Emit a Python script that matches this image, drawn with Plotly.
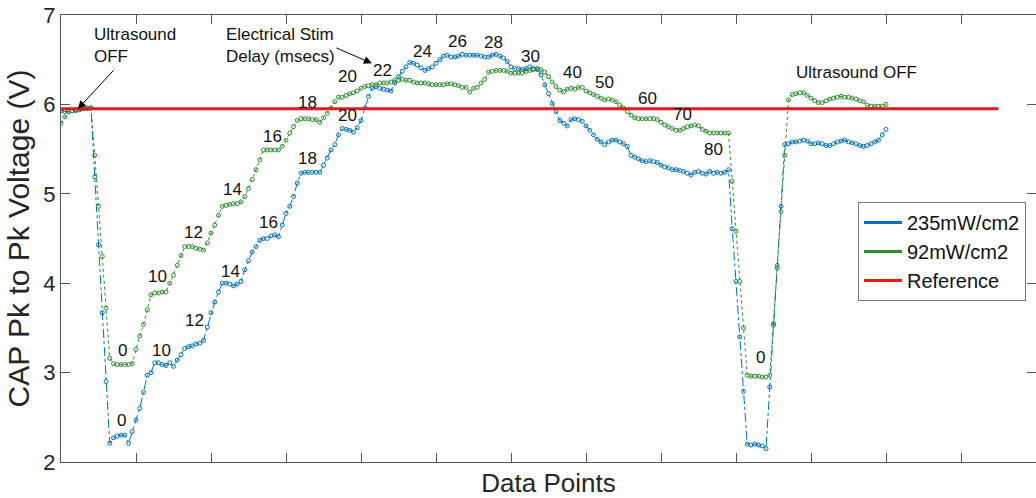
import numpy as np
import plotly.graph_objects as go

# CAP peak-to-peak voltage per data point for the two ultrasound intensities
cap_235 = [
    5.93, 5.92, 5.92, 5.93, 5.94, 5.95, 5.96, 5.96, 5.96,
    5.19, 4.43, 3.67, 2.90,
    2.21, 2.27, 2.29, 2.30, 2.30, 2.21, 2.34,
    2.47, 2.60, 2.78, 2.97, 3.00,
    3.11, 3.11, 3.09, 3.08, 3.11, 3.07,
    3.14, 3.20, 3.27, 3.29, 3.30, 3.32, 3.33, 3.36,
    3.51, 3.67, 3.79, 3.90, 4.00,
    4.00, 3.99, 3.97, 3.99, 4.02,
    4.15, 4.25, 4.35, 4.41, 4.48,
    4.50, 4.50, 4.53, 4.54, 4.52,
    4.65, 4.78, 4.86, 4.97, 5.12, 5.23,
    5.24, 5.24, 5.24, 5.24, 5.24,
    5.32, 5.40, 5.49, 5.55, 5.66,
    5.73, 5.72, 5.71, 5.69,
    5.74, 5.82, 5.96, 6.09, 6.18, 6.20,
    6.18, 6.17, 6.16, 6.15,
    6.24, 6.31, 6.37, 6.42, 6.47,
    6.46, 6.44, 6.41, 6.38, 6.40, 6.42, 6.46, 6.50, 6.54,
    6.55, 6.53, 6.53, 6.54, 6.56, 6.55, 6.55, 6.55, 6.55, 6.54, 6.53, 6.53,
    6.55, 6.56, 6.54, 6.52, 6.48,
    6.42, 6.40, 6.40, 6.39, 6.40, 6.42, 6.40, 6.39,
    6.33, 6.22, 6.12, 6.01, 5.92, 5.82, 5.79, 5.76,
    5.83, 5.84, 5.83, 5.81, 5.76, 5.71, 5.66, 5.61, 5.58, 5.55, 5.58, 5.60,
    5.60, 5.58, 5.56, 5.53, 5.43,
    5.41, 5.39, 5.37, 5.36, 5.37, 5.36, 5.35, 5.32, 5.30, 5.29, 5.27, 5.27,
    5.26, 5.25, 5.23, 5.21, 5.24, 5.25, 5.23, 5.22, 5.25, 5.23, 5.24, 5.23,
    5.24, 5.27,
    4.61, 4.02, 3.40, 2.79, 2.20,
    2.19, 2.20, 2.19, 2.18, 2.15,
    2.84, 3.53, 4.17, 4.86, 5.55,
    5.56, 5.58, 5.58, 5.59, 5.60, 5.59, 5.56, 5.56, 5.57, 5.56, 5.54, 5.54,
    5.56, 5.58, 5.59, 5.60, 5.58, 5.57, 5.56, 5.54, 5.53, 5.54, 5.56, 5.58,
    5.60, 5.66, 5.72,
]

cap_92 = [
    5.79, 5.86, 5.92, 5.93, 5.93, 5.94, 5.95, 5.95, 5.96,
    5.43, 4.86, 4.30, 3.72,
    3.16, 3.10, 3.09, 3.09, 3.09, 3.09, 3.10,
    3.26, 3.41, 3.54, 3.70, 3.87,
    3.89, 3.89, 3.90, 3.90,
    4.00, 4.09, 4.20, 4.31,
    4.41, 4.41, 4.41, 4.39, 4.38, 4.37,
    4.45, 4.56, 4.65, 4.76, 4.86,
    4.87, 4.88, 4.89, 4.89, 4.91,
    4.97, 5.06, 5.16, 5.27, 5.38,
    5.49, 5.49, 5.49, 5.49, 5.49,
    5.53, 5.60, 5.68, 5.75, 5.82,
    5.84, 5.84, 5.84, 5.83, 5.83, 5.80,
    5.85, 5.90, 5.96, 6.03, 6.08,
    6.08, 6.10, 6.12, 6.13, 6.15, 6.18, 6.20, 6.21, 6.22, 6.22, 6.24, 6.24,
    6.24, 6.25, 6.27, 6.27, 6.28, 6.27, 6.27, 6.25, 6.24, 6.24, 6.24, 6.23,
    6.22, 6.22, 6.22, 6.22, 6.23,
    6.23, 6.22, 6.21, 6.19, 6.19, 6.14, 6.18, 6.19, 6.24, 6.28, 6.36, 6.37,
    6.38, 6.38, 6.38, 6.37, 6.35, 6.35, 6.35, 6.35, 6.37, 6.38, 6.39, 6.40,
    6.39, 6.36, 6.31, 6.25, 6.20, 6.16, 6.14, 6.17, 6.18, 6.17, 6.19, 6.19,
    6.15, 6.13, 6.11, 6.09, 6.07, 6.05, 6.06, 6.05, 6.03, 5.99, 5.96, 5.92,
    5.88, 5.85, 5.84, 5.84, 5.84, 5.84, 5.84, 5.83, 5.80, 5.77, 5.75, 5.73,
    5.71, 5.71, 5.73, 5.75, 5.76, 5.77, 5.76, 5.72, 5.70, 5.68, 5.68, 5.68,
    5.68, 5.68, 5.68,
    5.14, 4.58, 4.02, 3.50, 2.97,
    2.96, 2.96, 2.96, 2.95, 2.95,
    2.97, 3.55, 4.20, 4.80, 5.43,
    6.05, 6.11, 6.12, 6.13, 6.13, 6.10, 6.07, 6.04, 6.02, 6.02, 6.04, 6.06,
    6.07, 6.08, 6.09, 6.08, 6.08, 6.07, 6.06, 6.04, 6.03, 5.99, 5.98, 5.98,
    5.98, 5.98, 6.00,
]

reference_level = 5.95
reference_span = [0, 250]

x_ticks = list(range(0, 261, 20))
y_ticks = [2, 3, 4, 5, 6, 7]

# delay labels (msecs): text, data point, voltage
labels_92 = [("0", 16.3, 3.25), ("10", 25.6, 4.07), ("12", 35.2, 4.57),
             ("14", 45.6, 5.05), ("16", 56.3, 5.64), ("18", 65.6, 6.02),
             ("20", 76.3, 6.31), ("22", 85.6, 6.38)]
labels_235 = [("0", 16.0, 2.46), ("10", 26.9, 3.25), ("12", 35.7, 3.58),
              ("14", 45.1, 4.13), ("16", 55.2, 4.68), ("18", 65.6, 5.39),
              ("20", 76.3, 5.88), ("24", 96.5, 6.59), ("26", 105.6, 6.70),
              ("28", 115.2, 6.69), ("30", 125.1, 6.54), ("40", 136.5, 6.36),
              ("50", 144.8, 6.25), ("60", 156.5, 6.07), ("70", 165.6, 5.89),
              ("80", 173.9, 5.49), ("0", 186.4, 3.17)]

assert len(cap_235) == len(cap_92)
points = np.arange(len(cap_235))

BLUE = "#0072BD"
GREEN = "#2E8B2E"
RED = "#E41A1A"
FONT = "Liberation Sans, Arial, sans-serif"
AXIS = "#555555"

fig = go.Figure()

# legend entries drawn as plain thick lines
fig.add_trace(go.Scatter(x=[None], y=[None], mode="lines", name="235mW/cm2",
                         line=dict(color=BLUE, width=3)))
fig.add_trace(go.Scatter(x=[None], y=[None], mode="lines", name="92mW/cm2",
                         line=dict(color=GREEN, width=3)))

fig.add_trace(go.Scatter(
    x=points, y=cap_235, mode="lines+markers", showlegend=False,
    line=dict(color=BLUE, width=1, dash="dashdot"),
    marker=dict(symbol="circle-open", size=4, color=BLUE, line=dict(width=1)),
))
fig.add_trace(go.Scatter(
    x=points, y=cap_92, mode="lines+markers", showlegend=False,
    line=dict(color=GREEN, width=1, dash="dot"),
    marker=dict(symbol="circle-open", size=4, color=GREEN, line=dict(width=1)),
))
fig.add_trace(go.Scatter(
    x=reference_span, y=[reference_level, reference_level], mode="lines",
    name="Reference", line=dict(color=RED, width=3),
))

annotations = []
for text, xv, yv in labels_92 + labels_235:
    annotations.append(dict(x=xv, y=yv, xref="x", yref="y", text=text,
                            showarrow=False, font=dict(size=17, color="#111111")))

annotations += [
    dict(x=8.3, y=6.66, xref="x", yref="y", text="Ultrasound<br>OFF",
         showarrow=False, xanchor="left", align="left",
         font=dict(size=17, color="#111111")),
    dict(x=43.5, y=6.66, xref="x", yref="y", text="Electrical Stim<br>Delay (msecs)",
         showarrow=False, xanchor="left", align="left",
         font=dict(size=17, color="#111111")),
    dict(x=212, y=6.36, xref="x", yref="y", text="Ultrasound OFF",
         showarrow=False, font=dict(size=17, color="#111111")),
    dict(x=4.5, y=reference_level, xref="x", yref="y", text="", showarrow=True,
         ax=37, ay=-40, arrowhead=2, arrowsize=1.6, arrowwidth=1, arrowcolor="#000000"),
    dict(x=82.9, y=6.46, xref="x", yref="y", text="", showarrow=True,
         ax=-37, ay=-16, arrowhead=2, arrowsize=1.6, arrowwidth=1, arrowcolor="#000000"),
]

fig.update_layout(
    width=1036, height=498,
    margin=dict(l=61, r=0, t=15, b=36),
    paper_bgcolor="white", plot_bgcolor="white",
    font=dict(family=FONT, color="#262626"),
    annotations=annotations,
    legend=dict(x=0.8174, y=0.5817, xanchor="left", yanchor="top",
                bordercolor="#777777", borderwidth=1, bgcolor="white",
                font=dict(size=20, color="#111111"), itemwidth=38, tracegroupgap=0),
)
fig.update_xaxes(
    range=[0, 260], tickvals=x_ticks, showticklabels=False,
    ticks="inside", ticklen=9, tickcolor=AXIS, showline=True, linecolor=AXIS,
    linewidth=1, mirror="ticks", showgrid=False, zeroline=False,
    title=dict(text="Data Points", font=dict(size=26, color="#262626"), standoff=14),
)
fig.update_yaxes(
    range=[2, 7], tickvals=y_ticks, ticks="inside", ticklen=9, tickcolor=AXIS,
    showline=True, linecolor=AXIS, linewidth=1, mirror="ticks", showgrid=False,
    zeroline=False, tickfont=dict(size=22, color="#262626"),
    title=dict(text="CAP Pk to Pk Voltage (V)", font=dict(size=30, color="#262626"),
               standoff=4),
)

fig.write_html("out.html")
